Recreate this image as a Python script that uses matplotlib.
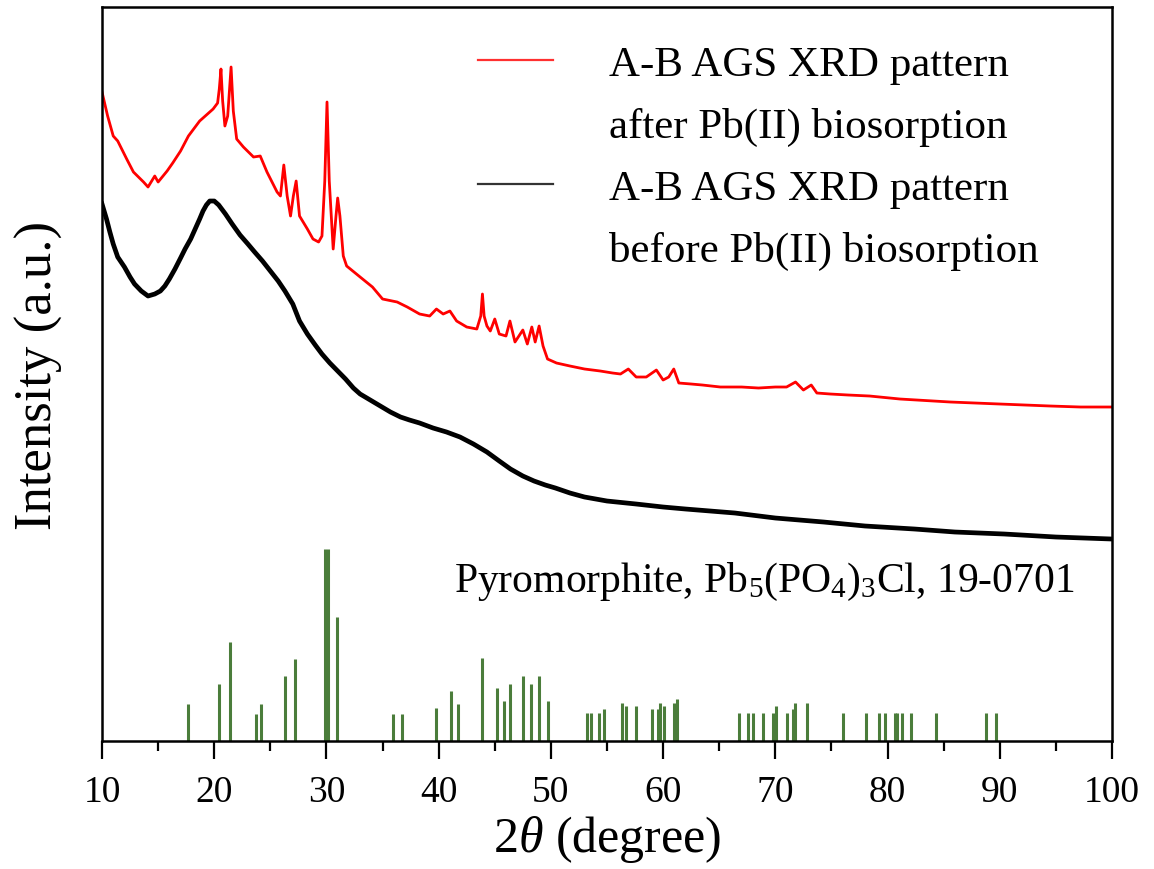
import matplotlib.pyplot as plt
from matplotlib.lines import Line2D
from matplotlib.ticker import MultipleLocator

plt.rcParams['font.family'] = 'Liberation Serif'
plt.rcParams['mathtext.fontset'] = 'custom'
plt.rcParams['mathtext.rm'] = 'Liberation Serif'
plt.rcParams['mathtext.it'] = 'Liberation Serif:italic'

# XRD after Pb(II) biosorption (red)
after_x = [10.0, 10.5, 11.0, 11.4, 12.2, 12.8, 13.7, 14.1, 14.7, 15.0, 15.8, 16.3, 17.0, 17.7,
           18.7, 19.9, 20.3, 20.45, 20.6, 20.75, 20.95, 21.2, 21.5, 21.7, 22.0, 22.6, 23.5, 24.1,
           24.7, 25.6, 25.9, 26.2, 26.5, 26.8, 27.05, 27.3, 27.6, 28.3, 28.8, 29.3, 29.6, 29.85,
           30.05, 30.25, 30.6, 30.85, 31.0, 31.2, 31.5, 31.8, 33.0, 34.1, 35.0, 36.3, 37.2, 38.3,
           39.2, 39.8, 40.4, 41.0, 41.6, 42.5, 43.4, 43.75, 43.9, 44.05, 44.3, 44.6, 45.0, 45.4,
           46.0, 46.35, 46.8, 47.5, 47.9, 48.3, 48.6, 48.95, 49.3, 49.7, 50.5, 51.7, 53.0, 54.4,
           55.5, 56.2, 56.9, 57.6, 58.5, 59.4, 60.0, 60.5, 60.95, 61.4, 62.5, 63.5, 65.1, 67.0,
           68.5, 70.0, 71.0, 71.8, 72.5, 73.2, 73.7, 74.9, 76.5, 78.4, 81.1, 85.6, 90.0, 94.5,
           97.2, 100.0]
after_y = [649, 625, 605, 600, 582, 569, 559, 554, 565, 559, 570, 578, 590, 605,
           620, 632, 638, 652, 672, 640, 615, 625, 674, 630, 602, 594, 584, 585,
           569, 549, 545, 576, 545, 525, 545, 560, 525, 512, 502, 499, 505, 560,
           639, 560, 492, 525, 543, 525, 485, 475, 464, 454, 442, 439, 434, 427,
           425, 432, 427, 430, 420, 414, 412, 425, 447, 425, 415, 410, 422, 407,
           405, 420, 399, 411, 397, 414, 399, 415, 395, 382, 378, 375, 372, 370,
           368, 367, 372, 364, 364, 371, 361, 364, 372, 358, 357, 356, 354, 354,
           353, 354, 354, 359, 351, 356, 348, 347, 346, 345, 342, 339, 337, 335,
           334, 334]

# XRD before Pb(II) biosorption (black)
before_x = [10.0, 10.4, 10.7, 11.0, 11.4, 12.0, 12.5, 12.9, 13.5, 14.1, 14.7, 15.2, 15.6, 16.0,
            16.5, 17.0, 17.4, 17.9, 18.3, 18.7, 19.0, 19.3, 19.6, 20.0, 20.4, 21.0, 21.6, 22.3,
            23.0, 23.6, 24.3, 25.0, 25.7, 26.3, 27.0, 27.6, 28.3, 29.0, 29.6, 30.3, 31.0, 31.7,
            32.4, 33.0, 33.9, 34.8, 35.7, 36.6, 37.4, 38.3, 39.5, 40.7, 41.9, 43.1, 44.3, 45.4,
            46.4, 47.5, 48.5, 49.5, 50.4, 51.7, 53.0, 55.0, 57.6, 60.0, 62.0, 66.4, 70.0, 74.3,
            78.0, 82.4, 86.0, 90.4, 95.0, 100.0]
before_y = [537, 522, 509, 497, 484, 474, 464, 457, 450, 445, 447, 450, 455, 462,
            472, 483, 492, 502, 512, 522, 530, 536, 540, 540, 536, 527, 517, 506,
            497, 489, 480, 470, 460, 450, 437, 420, 407, 396, 387, 378, 370, 362,
            353, 347, 341, 335, 329, 324, 321, 318, 313, 309, 304, 297, 289, 280,
            272, 265, 260, 256, 253, 248, 244, 240, 237, 234, 232, 228, 223, 219,
            215, 212, 209, 207, 204, 202]

# Pyromorphite reference pattern, 19-0701
ref_pos = [17.66, 20.4, 21.39, 23.71, 24.19, 26.31, 27.2, 29.85, 30.15, 30.93, 35.94, 36.77,
           39.76, 41.07, 41.75, 43.9, 45.18, 45.78, 46.37, 47.48, 48.22, 48.97, 49.77, 53.2,
           53.58, 54.3, 54.7, 56.3, 56.7, 57.6, 59.0, 59.55, 59.75, 60.1, 61.0, 61.2, 66.76,
           67.58, 68.03, 68.88, 69.76, 70.1, 71.0, 71.58, 71.76, 72.79, 76.06, 78.12, 79.24,
           79.76, 80.67, 80.85, 81.3, 82.06, 84.33, 88.79, 89.7]
ref_h = [37, 57, 99, 27, 37, 65, 82, 192, 192, 124, 27, 27,
         33, 50, 37, 83, 53, 40, 57, 65, 57, 65, 40, 28,
         28, 28, 32, 38, 35, 35, 32, 32, 38, 35, 38, 42, 28,
         28, 28, 28, 28, 35, 28, 32, 38, 38, 28, 28, 28,
         28, 28, 28, 28, 28, 28, 28, 28]

fig = plt.figure(figsize=(11.54, 8.7), dpi=100)
ax = fig.add_axes([0.0884, 0.1471, 0.8752, 0.8437])

ax.plot(after_x, after_y, color='#ff0000', lw=2.0)
ax.plot(before_x, before_y, color='black', lw=3.4)
ax.vlines(ref_pos, 0, ref_h, color='#4b7d3b', lw=2.2)

ax.text(41.4, 150, r'Pyromorphite, Pb$_5$(PO$_4$)$_3$Cl, 19-0701', fontsize=30, va='baseline')

red_h = Line2D([], [], color='#ff3030', lw=1.6)
black_h = Line2D([], [], color='#333333', lw=1.6)
blank = Line2D([], [], color='none')
ax.legend([red_h, blank, black_h, blank],
          ['A-B AGS XRD pattern', 'after Pb(II) biosorption',
           'A-B AGS XRD pattern', 'before Pb(II) biosorption'],
          loc='upper left', bbox_to_anchor=(0.372, 0.948), frameon=False,
          fontsize=31, handlelength=1.75, handletextpad=1.3, labelspacing=0.53,
          borderpad=0, borderaxespad=0)

ax.set_xlim(10, 100)
ax.set_ylim(0, 734)
ax.xaxis.set_major_locator(MultipleLocator(10))
ax.xaxis.set_minor_locator(MultipleLocator(5))
ax.tick_params(axis='x', which='major', direction='out', length=13, width=1.6, labelsize=27, pad=11)
ax.tick_params(axis='x', which='minor', direction='out', length=7, width=1.6)
ax.set_yticks([])
for s in ax.spines.values():
    s.set_linewidth(1.8)

ax.set_xlabel(r'2$\theta$ (degree)', fontsize=36, labelpad=3)
ax.set_ylabel('Intensity (a.u.)', fontsize=38, labelpad=28)

fig.savefig('out.png', dpi=100)
